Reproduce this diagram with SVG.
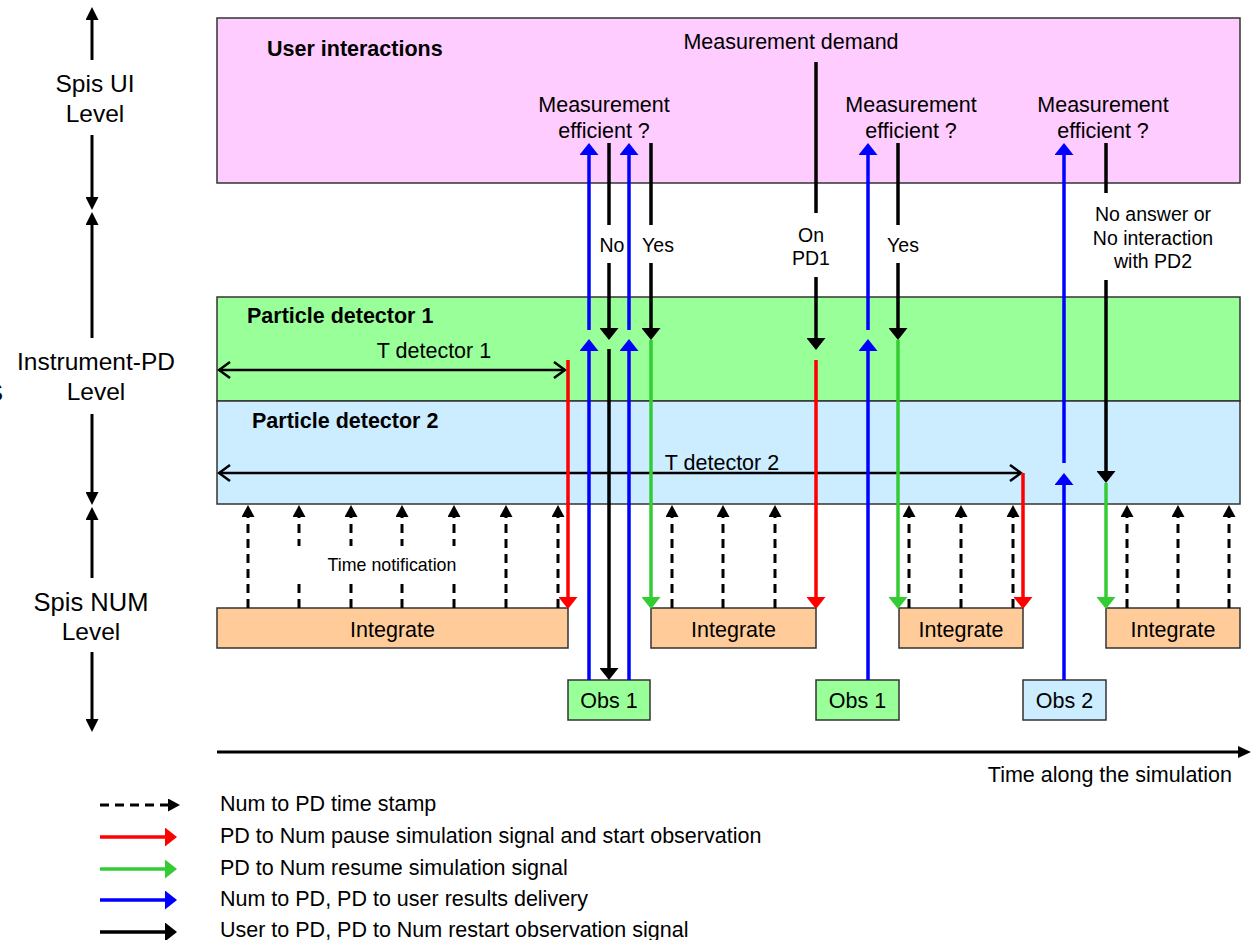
<svg xmlns="http://www.w3.org/2000/svg" width="1251" height="940" viewBox="0 0 1251 940">
<style>
text{font-family:"Liberation Sans",Arial,sans-serif;fill:#000}
.lvl{font-size:24.5px;text-anchor:middle}
.lab{font-size:21.5px;text-anchor:middle}
.sm{font-size:19.5px;text-anchor:middle}
.bold{font-size:21.5px;font-weight:bold}
.leg{font-size:21.5px}
.box{stroke:#333;stroke-width:1.5}
.pink{fill:#FFCCFF}.green{fill:#99FF99}.blue{fill:#CCECFF}.orange{fill:#FFCC99}
.ln{fill:none;stroke-width:3.5}
.kb{stroke:#000}.bb{stroke:#0000FF}.rb{stroke:#FF0000}.gb{stroke:#33CC33}
.dash{fill:none;stroke:#000;stroke-width:3;stroke-dasharray:9 6}
.axis{fill:none;stroke:#000;stroke-width:3}
.tdet{fill:none;stroke:#000;stroke-width:2.5}
</style>
<defs>
<marker id="aK" markerUnits="userSpaceOnUse" viewBox="0 0 12 19" refX="0" refY="9.5" markerWidth="12" markerHeight="19" orient="auto"><path d="M0,0L12,9.5L0,19z" fill="#000"/></marker>
<marker id="aB" markerUnits="userSpaceOnUse" viewBox="0 0 12 19" refX="0" refY="9.5" markerWidth="12" markerHeight="19" orient="auto"><path d="M0,0L12,9.5L0,19z" fill="#0000FF"/></marker>
<marker id="aR" markerUnits="userSpaceOnUse" viewBox="0 0 12 19" refX="0" refY="9.5" markerWidth="12" markerHeight="19" orient="auto"><path d="M0,0L12,9.5L0,19z" fill="#FF0000"/></marker>
<marker id="aG" markerUnits="userSpaceOnUse" viewBox="0 0 12 19" refX="0" refY="9.5" markerWidth="12" markerHeight="19" orient="auto"><path d="M0,0L12,9.5L0,19z" fill="#33CC33"/></marker>
<marker id="aD" markerUnits="userSpaceOnUse" viewBox="0 0 12 13" refX="0" refY="6.5" markerWidth="12" markerHeight="13" orient="auto"><path d="M0,0L12,6.5L0,13z" fill="#000"/></marker>
<marker id="aX" markerUnits="userSpaceOnUse" viewBox="0 0 13 13" refX="0" refY="6.5" markerWidth="13" markerHeight="13" orient="auto"><path d="M0,0L13,6.5L0,13z" fill="#000"/></marker>
<marker id="aT" markerUnits="userSpaceOnUse" viewBox="0 0 13 12" refX="0" refY="6" markerWidth="13" markerHeight="12" orient="auto"><path d="M0,0L13,6L0,12z" fill="#000"/></marker>
<marker id="aC" markerUnits="userSpaceOnUse" viewBox="-1 -1 14 18" refX="11" refY="8" markerWidth="14" markerHeight="18" orient="auto-start-reverse"><path d="M0,0L11,8L0,16" fill="none" stroke="#000" stroke-width="2.5"/></marker>
</defs>

<!-- level axis -->
<g id="level-axis">
<path class="axis" d="M92,60V20" marker-end="url(#aX)"/>
<path class="axis" d="M92,135V197" marker-end="url(#aX)"/>
<path class="axis" d="M92,338V225" marker-end="url(#aX)"/>
<path class="axis" d="M92,414V492" marker-end="url(#aX)"/>
<path class="axis" d="M92,578V520" marker-end="url(#aX)"/>
<path class="axis" d="M92,652V719" marker-end="url(#aX)"/>
<text class="lvl" x="95" y="92">Spis UI</text>
<text class="lvl" x="95" y="122">Level</text>
<text class="lvl" x="96" y="370">Instrument-PD</text>
<text class="lvl" x="96" y="400">Level</text>
<text class="lvl" x="91" y="611" style="font-size:25.5px">Spis NUM</text>
<text class="lvl" x="91" y="640">Level</text>
<text x="-13" y="401" style="font-size:24px">S</text>
</g>

<g id="user-interactions">
<rect class="box pink" x="217" y="18" width="1023" height="165"/>
<text class="bold" x="267" y="56">User interactions</text>
<text class="lab" x="791" y="49">Measurement demand</text>
<text class="lab" x="604" y="112">Measurement</text>
<text class="lab" x="604" y="138">efficient ?</text>
<text class="lab" x="911" y="112">Measurement</text>
<text class="lab" x="911" y="138">efficient ?</text>
<text class="lab" x="1103" y="112">Measurement</text>
<text class="lab" x="1103" y="138">efficient ?</text>
</g>

<g id="particle-detector-1">
<rect class="box green" x="217" y="297" width="1023" height="104"/>
<text class="bold" x="247" y="323">Particle detector 1</text>
<text class="lab" x="434" y="358">T detector 1</text>
</g>

<g id="particle-detector-2">
<rect class="box blue" x="217" y="401" width="1023" height="103"/>
<text class="bold" x="252" y="428">Particle detector 2</text>
<text class="lab" x="722" y="470">T detector 2</text>
</g>

<g id="integrate-1"><rect class="box orange" x="217" y="608" width="351" height="40"/><text class="lab" x="392.5" y="637">Integrate</text></g>
<g id="integrate-2"><rect class="box orange" x="651" y="608" width="165" height="40"/><text class="lab" x="733.5" y="637">Integrate</text></g>
<g id="integrate-3"><rect class="box orange" x="899" y="608" width="124" height="40"/><text class="lab" x="961" y="637">Integrate</text></g>
<g id="integrate-4"><rect class="box orange" x="1106" y="608" width="134" height="40"/><text class="lab" x="1173" y="637">Integrate</text></g>

<g id="obs-1a"><rect class="box green" x="568" y="680" width="82" height="40"/><text class="lab" x="609" y="708">Obs 1</text></g>
<g id="obs-1b"><rect class="box green" x="816" y="680" width="83" height="40"/><text class="lab" x="857.5" y="708">Obs 1</text></g>
<g id="obs-2"><rect class="box blue" x="1023" y="680" width="83" height="40"/><text class="lab" x="1064.5" y="708">Obs 2</text></g>

<g id="connectors">
<!-- T detector spans -->
<path class="tdet" d="M219,370H565" marker-start="url(#aC)" marker-end="url(#aC)"/>
<path class="tdet" d="M219,473H1021" marker-start="url(#aC)" marker-end="url(#aC)"/>
<!-- time notifications -->
<g id="time-notifications">
<path class="dash" d="M248,608V517" marker-end="url(#aD)"/>
<path class="dash" d="M299,608V517" marker-end="url(#aD)"/>
<path class="dash" d="M351,608V517" marker-end="url(#aD)"/>
<path class="dash" d="M402,608V517" marker-end="url(#aD)"/>
<path class="dash" d="M454,608V517" marker-end="url(#aD)"/>
<path class="dash" d="M506,608V517" marker-end="url(#aD)"/>
<path class="dash" d="M558,608V517" marker-end="url(#aD)"/>
<path class="dash" d="M672,608V517" marker-end="url(#aD)"/>
<path class="dash" d="M723,608V517" marker-end="url(#aD)"/>
<path class="dash" d="M775,608V517" marker-end="url(#aD)"/>
<path class="dash" d="M909,608V517" marker-end="url(#aD)"/>
<path class="dash" d="M961,608V517" marker-end="url(#aD)"/>
<path class="dash" d="M1013,608V517" marker-end="url(#aD)"/>
<path class="dash" d="M1127,608V517" marker-end="url(#aD)"/>
<path class="dash" d="M1178,608V517" marker-end="url(#aD)"/>
<path class="dash" d="M1229,608V517" marker-end="url(#aD)"/>
<rect x="290" y="546" width="175" height="35" fill="#fff"/>
<text x="392" y="571" style="font-size:17.8px;text-anchor:middle">Time notification</text>
</g>
<!-- red: pause -->
<path class="ln rb" d="M568,360V597" marker-end="url(#aR)"/>
<path class="ln rb" d="M816,360V597" marker-end="url(#aR)"/>
<path class="ln rb" d="M1023,473V597" marker-end="url(#aR)"/>
<!-- green: resume -->
<path class="ln gb" d="M651,340V597" marker-end="url(#aG)"/>
<path class="ln gb" d="M898,340V597" marker-end="url(#aG)"/>
<path class="ln gb" d="M1106,483V597" marker-end="url(#aG)"/>
<!-- blue: results delivery -->
<path class="ln bb" d="M589,680V351" marker-end="url(#aB)"/>
<path class="ln bb" d="M589,330V155" marker-end="url(#aB)"/>
<path class="ln bb" d="M629,680V351" marker-end="url(#aB)"/>
<path class="ln bb" d="M629,330V155" marker-end="url(#aB)"/>
<path class="ln bb" d="M868,680V351" marker-end="url(#aB)"/>
<path class="ln bb" d="M868,330V155" marker-end="url(#aB)"/>
<path class="ln bb" d="M1064,680V485" marker-end="url(#aB)"/>
<path class="ln bb" d="M1064,463V155" marker-end="url(#aB)"/>
<!-- black: user / restart -->
<path class="ln kb" d="M609,143V225"/>
<path class="ln kb" d="M609,263V328" marker-end="url(#aK)"/>
<path class="ln kb" d="M609,349V668" marker-end="url(#aK)"/>
<text class="sm" x="612" y="252">No</text>
<path class="ln kb" d="M651,143V225"/>
<path class="ln kb" d="M651,263V328" marker-end="url(#aK)"/>
<text class="sm" x="658" y="252">Yes</text>
<path class="ln kb" d="M816,62V213"/>
<path class="ln kb" d="M816,277V338" marker-end="url(#aK)"/>
<text class="sm" x="811" y="242">On</text>
<text class="sm" x="811" y="265">PD1</text>
<path class="ln kb" d="M898,143V225"/>
<path class="ln kb" d="M898,263V328" marker-end="url(#aK)"/>
<text class="sm" x="903" y="252">Yes</text>
<path class="ln kb" d="M1106,143V193"/>
<path class="ln kb" d="M1106,280V471" marker-end="url(#aK)"/>
<text class="sm" x="1153" y="221">No answer or</text>
<text class="sm" x="1153" y="245">No interaction</text>
<text class="sm" x="1153" y="268">with PD2</text>
</g>

<g id="time-axis">
<path class="axis" d="M217,752H1238" marker-end="url(#aT)"/>
<text class="lab" x="1232" y="782" style="text-anchor:end">Time along the simulation</text>
</g>

<g id="legend">
<path class="dash" d="M100,805H168" stroke-dasharray="6 4" stroke-width="2.5" marker-end="url(#aD)"/>
<path class="ln rb" d="M100,837H165" marker-end="url(#aR)"/>
<path class="ln gb" d="M100,869H165" marker-end="url(#aG)"/>
<path class="ln bb" d="M100,900H165" marker-end="url(#aB)"/>
<path class="ln kb" d="M100,932H165" marker-end="url(#aK)"/>
<text class="leg" x="220" y="811">Num to PD time stamp</text>
<text class="leg" x="220" y="843">PD to Num pause simulation signal and start observation</text>
<text class="leg" x="220" y="875">PD to Num resume simulation signal</text>
<text class="leg" x="220" y="906">Num to PD, PD to user results delivery</text>
<text class="leg" x="220" y="937">User to PD, PD to Num restart observation signal</text>
</g>
</svg>
